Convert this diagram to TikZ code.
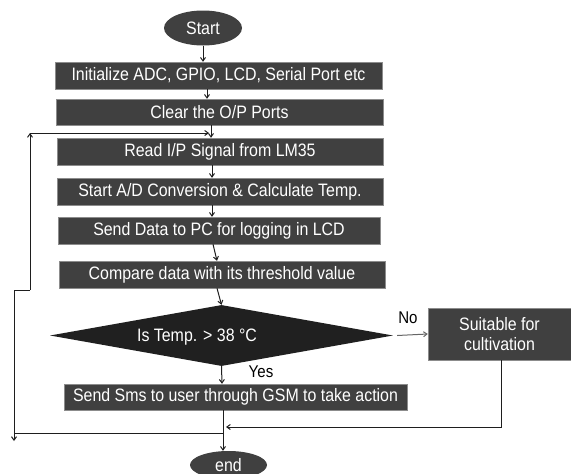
\documentclass[tikz,border=0pt]{standalone}
\usepackage{fontspec}
\setmainfont{Liberation Sans}[FakeStretch=0.885]
\usetikzlibrary{shapes.geometric,arrows.meta}
\definecolor{boxfill}{RGB}{64,64,64}
\definecolor{diafill}{RGB}{32,32,32}
\definecolor{linec}{RGB}{30,30,30}
\begin{document}
\begin{tikzpicture}[x=1pt,y=-1pt,
  every node/.style={font=\fontsize{18}{20}\selectfont, inner sep=0pt},
  stepbox/.style={rectangle, fill=boxfill, draw=black!45, line width=0.4pt, text=white, align=center},
  term/.style={ellipse, fill=boxfill, text=white},
  arr/.style={draw=linec, line width=1pt, -{Straight Barb[length=3.5pt,width=5pt]}},
  ln/.style={draw=linec, line width=1pt},
  lbl/.style={text=black, font=\fontsize{17}{18}\selectfont}]
\useasboundingbox (0,0) rectangle (571,474);
\node[term, minimum width=78, minimum height=35] (start) at (203,28) {Start};
\node[stepbox, minimum width=327, minimum height=27] (init) at (218.5,75.5) {Initialize ADC, GPIO, LCD, Serial Port etc};
\node[stepbox, minimum width=327, minimum height=26] (clear) at (219.5,112) {Clear the O/P Ports};
\node[stepbox, minimum width=326, minimum height=27] (read) at (220,151.5) {Read I/P Signal from LM35};
\node[stepbox, minimum width=326, minimum height=27] (ad) at (220,191.5) {Start A/D Conversion \& Calculate Temp.};
\node[stepbox, minimum width=322, minimum height=27] (send) at (219,230.5) {Send Data to PC for logging in LCD};
\node[stepbox, minimum width=326, minimum height=27] (cmp) at (222,274.5) {Compare data with its threshold value};
\node[diamond, fill=diafill, minimum width=343, minimum height=61, aspect=5.6] (dia) at (221.5,335.5) {};
\node[text=white] (dtext) at (197,337) {Is Temp. > 38 °C};
\node[stepbox, minimum width=143, minimum height=52, font=\fontsize{18}{20}\selectfont] (suit) at (499.5,334) {Suitable for\\cultivation};
\node[stepbox, minimum width=343, minimum height=26] (sms) at (235.5,397) {Send Sms to user through GSM to take action};
\node[term, minimum width=77, minimum height=28] (end) at (228.5,465) {end};
\node[lbl] (no) at (408,318) {No};
\node[lbl] (yes) at (261,372) {Yes};
% main flow
\draw[arr] (start.south) -- (start.south |- init.north);
\draw[arr] ([xshift=-11.5]init.south) -- ([xshift=-12.5]clear.north);
\draw[arr] ([xshift=-8.5]clear.south) -- ([xshift=-9]read.north);
\draw[arr] ([xshift=-8]read.south) -- ([xshift=-8]ad.north);
\draw[arr] ([xshift=-8]ad.south) -- ([xshift=-7]send.north);
\draw[arr] ([xshift=-6]send.south) -- ([xshift=-5]cmp.north);
\draw[arr] ([xshift=-5]cmp.south) -- (dia.north);
\draw[arr] (dia.south) -- ([xshift=-13.5]sms.north);
\draw[arr] ([xshift=-12.5]sms.south) -- ([xshift=-5.5]end.north);
\draw[arr, draw=black!60] ([xshift=4]dia.east) -- (suit.west);
% return from suitable
\coordinate (r1) at (501,427);
\coordinate (r2) at (226,427);
\draw[arr] ([xshift=1.5]suit.south) -- (r1) -- (r2);
% loop back
\coordinate (j1) at (223,433);
\coordinate (l1) at (14,433);
\coordinate (lb) at (14,441);
\coordinate (l2) at (14,290);
\coordinate (l3) at (30,290);
\coordinate (l4) at (30,133);
\coordinate (l5) at (209,133);
\draw[ln] (j1) -- (l1);
\draw[arr] (l2) -- (lb);
\draw[ln] (l2) -- (l3);
\draw[arr] (l3) -- (l4);
\draw[arr] (l4) -- (l5);
\end{tikzpicture}
\end{document}
